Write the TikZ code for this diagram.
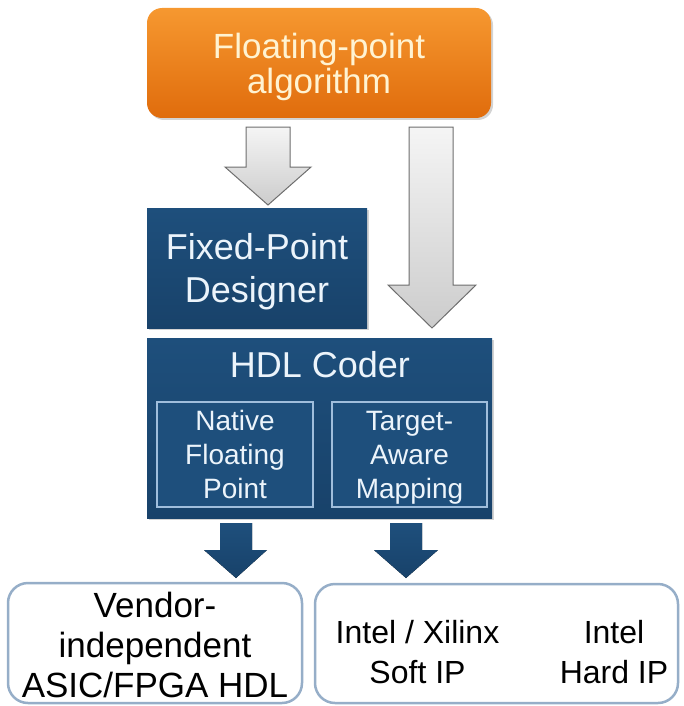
\documentclass[tikz,border=0pt]{standalone}
\usepackage{fontspec}
\setmainfont{Liberation Sans}
\usetikzlibrary{positioning,shadows}

\definecolor{algtop}{RGB}{246,152,48}
\definecolor{algbot}{RGB}{224,108,12}
\definecolor{algtext}{RGB}{255,243,210}
\definecolor{hdlblue}{RGB}{30,79,124}
\definecolor{hdldark}{RGB}{24,66,106}
\definecolor{hdltext}{RGB}{236,244,251}
\definecolor{innerline}{RGB}{160,190,220}
\definecolor{outline}{RGB}{150,174,200}
\definecolor{arrowline}{RGB}{110,110,110}

\tikzset{
  boxshadow/.style={drop shadow={shadow xshift=2pt, shadow yshift=-2pt, opacity=0.35}},
  algbox/.style={rounded corners=15pt, top color=algtop, bottom color=algbot,
    text=algtext, align=center, inner sep=0pt, text depth=0pt, boxshadow},
  bluebox/.style={top color=hdlblue, bottom color=hdldark, text=hdltext,
    align=center, inner sep=0pt, boxshadow},
  innerbox/.style={draw=innerline, line width=1.5pt, fill=hdlblue, text=hdltext,
    align=center, inner sep=0pt, minimum height=105pt, text depth=0pt,
    font=\fontsize{28}{34}\selectfont},
  outbox/.style={draw=outline, line width=2.5pt, rounded corners=20pt,
    fill=white, inner sep=0pt},
  outtext/.style={align=center, inner sep=0pt, font=\fontsize{32}{40}\selectfont},
  grayarrow/.style={draw=arrowline, line width=1pt, top color=gray!8, bottom color=gray!40},
  bluearrow/.style={top color=hdlblue, bottom color=hdldark}
}

\begin{document}
\begin{tikzpicture}[x=1pt,y=-1pt]
\useasboundingbox (0,0) rectangle (683,706);

% source
\node[algbox, minimum width=344pt, minimum height=110pt,
  font=\fontsize{35}{35}\selectfont] (alg) at (319,63) {Floating-point\\algorithm};

% tools
\node[bluebox, minimum width=220pt, minimum height=120pt, text depth=0pt,
  font=\fontsize{36}{43}\selectfont] (fixpt) at (257,268) {Fixed-Point\\Designer};
\node[bluebox, minimum width=345pt, minimum height=180pt] (hdl) at (319.5,428) {};
\node[text=hdltext, inner sep=0pt, font=\fontsize{36}{36}\selectfont] (hdltitle) at (320,365) {HDL Coder};
\node[innerbox, minimum width=156pt] (native) at (235,454.5) {Native\\Floating\\Point};
\node[innerbox, minimum width=155pt] (target) at (409.5,454.5) {Target-\\Aware\\Mapping};

% targets
\node[outbox, minimum width=294pt, minimum height=120pt] (vendor) at (155,643) {};
\node[outtext, font=\fontsize{35}{40}\selectfont] (vendortext) at (155,645) {Vendor-\\independent\\ASIC/FPGA HDL};
\node[outbox, minimum width=363pt, minimum height=119pt] (ip) at (496.5,643.5) {};
\node[outtext] (softip) at (417.5,652) {Intel / Xilinx\\Soft IP};
\node[outtext] (hardip) at (614,652) {Intel\\Hard IP};

% arrows
\draw[grayarrow] (246,127) -- (290,127) -- (290,167) -- (311,167) -- (268,205) -- (225,167) -- (246,167) -- cycle;
\draw[grayarrow] (409,127) -- (453,127) -- (453,285) -- (476,285) -- (432,328) -- (388,285) -- (409,285) -- cycle;
\fill[bluearrow] (220,523) -- (252,523) -- (252,550) -- (267,550) -- (236,578) -- (204,550) -- (220,550) -- cycle;
\fill[bluearrow] (390,523) -- (422,523) -- (422,550) -- (438,550) -- (406,578) -- (374,550) -- (390,550) -- cycle;

\end{tikzpicture}
\end{document}
